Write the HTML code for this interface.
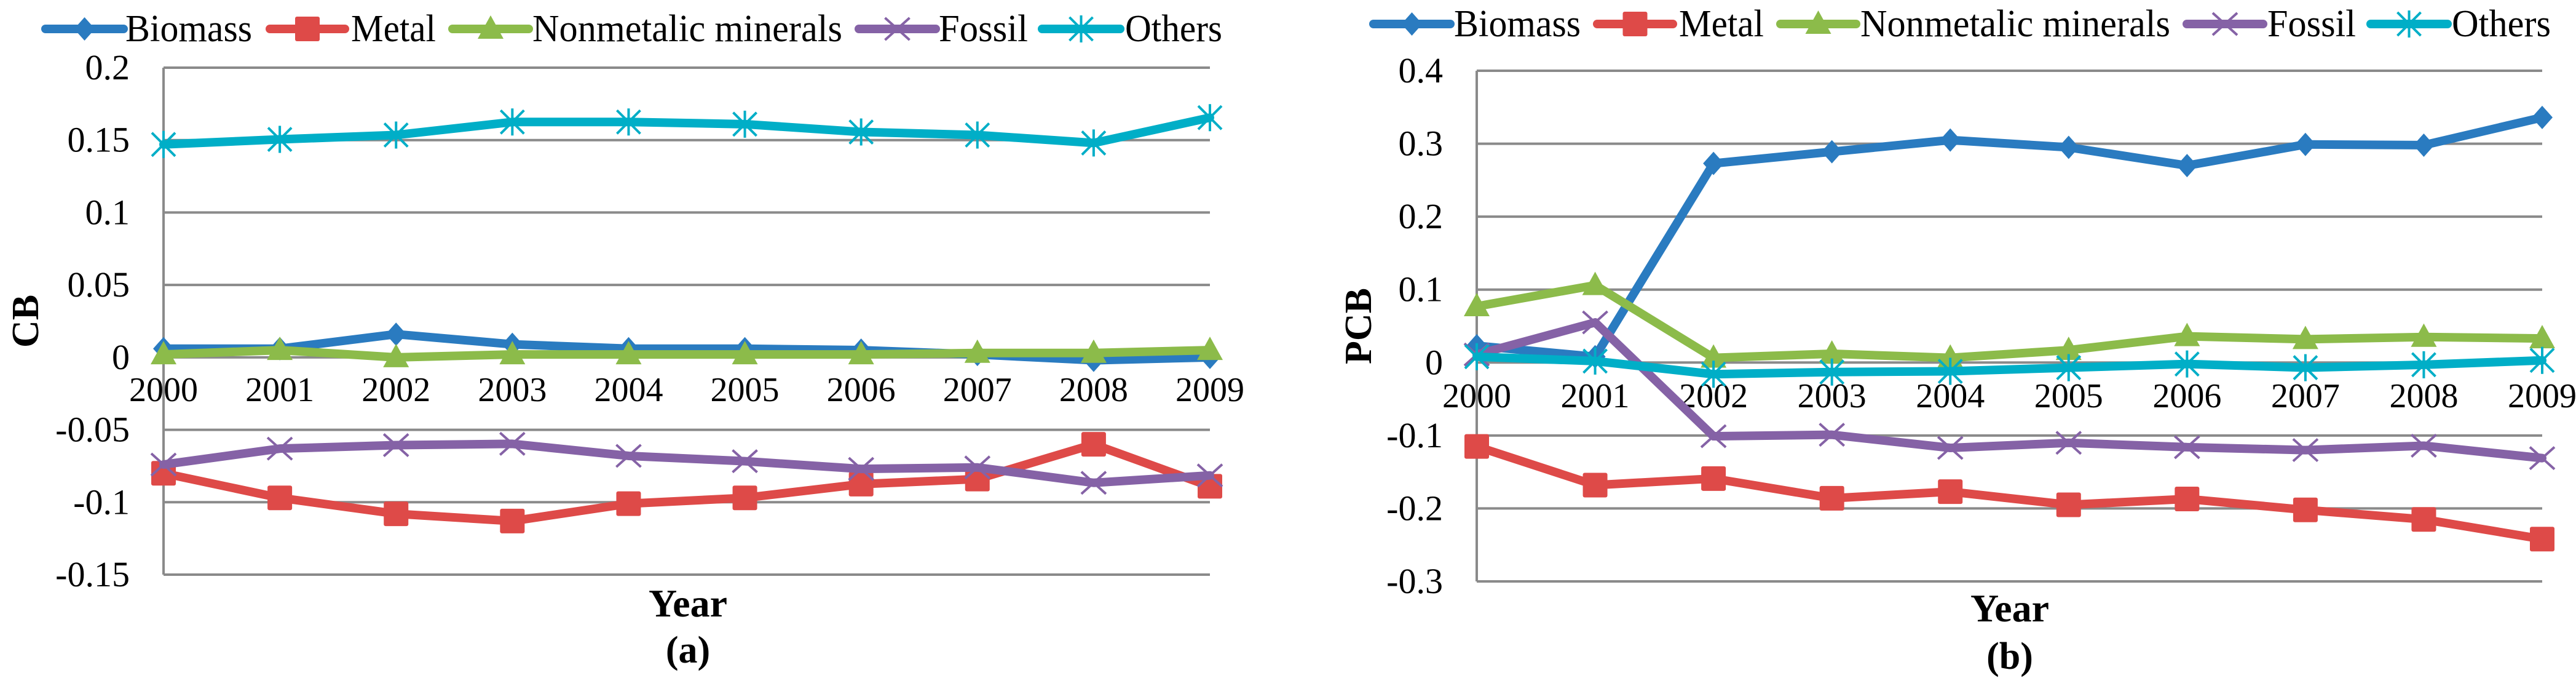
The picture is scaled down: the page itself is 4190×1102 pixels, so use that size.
<!DOCTYPE html>
<html><head><meta charset="utf-8"><style>
html,body{margin:0;padding:0;background:#fff;}
svg{display:block;}
svg text{font-family:"Liberation Serif","Times New Roman",serif !important;fill:#000;}
</style></head><body>
<svg id="chart" width="4190" height="1102" viewBox="0 0 4190 1102" xmlns="http://www.w3.org/2000/svg" font-family="'Liberation Serif', serif"></svg>
<script>
const years = ["2000","2001","2002","2003","2004","2005","2006","2007","2008","2009"];
const seriesNames = ["Biomass","Metal","Nonmetalic minerals","Fossil","Others"];
const seriesColors = ["#2A7BC0","#DE4A48","#8CBB4A","#8562A6","#00AEC7"];
const seriesMarkers = ["diamond","square","triangle","x","star"];
// Panel (a) CB
const cbBiomass = [0.006,0.006,0.016,0.009,0.006,0.006,0.005,0.002,-0.002,0.000];
const cbMetal = [-0.080,-0.097,-0.108,-0.113,-0.101,-0.097,-0.0875,-0.084,-0.060,-0.089];
const cbNonmet = [0.002,0.005,0.000,0.002,0.002,0.002,0.002,0.003,0.003,0.005];
const cbFossil = [-0.074,-0.063,-0.0606,-0.0597,-0.068,-0.0717,-0.077,-0.076,-0.0866,-0.0815];
const cbOthers = [0.147,0.1505,0.1535,0.1625,0.1625,0.161,0.1556,0.1535,0.148,0.1655];
const cbTicks = [0.2,0.15,0.1,0.05,0,-0.05,-0.1,-0.15];
const cbTickLabels = ["0.2","0.15","0.1","0.05","0","-0.05","-0.1","-0.15"];
// Panel (b) PCB
const pcbBiomass = [0.023,0.008,0.273,0.289,0.305,0.295,0.270,0.299,0.298,0.336];
const pcbMetal = [-0.115,-0.168,-0.159,-0.186,-0.177,-0.195,-0.187,-0.202,-0.215,-0.242];
const pcbNonmet = [0.077,0.106,0.0065,0.012,0.0065,0.017,0.036,0.032,0.035,0.033];
const pcbFossil = [0.011,0.055,-0.101,-0.099,-0.117,-0.110,-0.116,-0.120,-0.114,-0.131];
const pcbOthers = [0.008,0.002,-0.016,-0.013,-0.012,-0.007,-0.002,-0.007,-0.003,0.003];
const pcbTicks = [0.4,0.3,0.2,0.1,0,-0.1,-0.2,-0.3];
const pcbTickLabels = ["0.4","0.3","0.2","0.1","0","-0.1","-0.2","-0.3"];

const NS="http://www.w3.org/2000/svg";
const svg=document.getElementById('chart');
const FONT="'Liberation Serif', 'Times New Roman', serif";
function mk(tag,attrs,parent){const e=document.createElementNS(NS,tag);for(const k in attrs)e.setAttribute(k,attrs[k]);if(tag==='text')e.setAttribute('font-family',FONT);(parent||svg).appendChild(e);return e;}

function marker(g,type,cx,cy,color){
  let m;
  if(type==="diamond"){m=mk('polygon',{points:`${cx},${cy-19} ${cx+17},${cy} ${cx},${cy+19} ${cx-17},${cy}`,fill:color},g);}
  else if(type==="square"){m=mk('rect',{x:cx-20,y:cy-20,width:40,height:40,rx:3,fill:color},g);}
  else if(type==="triangle"){m=mk('polygon',{points:`${cx},${cy-22} ${cx+21},${cy+16} ${cx-21},${cy+16}`,fill:color},g);}
  else if(type==="x"){m=mk('path',{d:`M${cx-20},${cy-18}L${cx+20},${cy+18}M${cx-20},${cy+18}L${cx+20},${cy-18}`,stroke:color,'stroke-width':4,fill:'none'},g);}
  else {m=mk('path',{d:`M${cx-19},${cy-19}L${cx+19},${cy+19}M${cx-19},${cy+19}L${cx+19},${cy-19}M${cx},${cy-22}L${cx},${cy+22}`,stroke:color,'stroke-width':4,fill:'none'},g);}
  
  
}

function panel(cfg){
  const g=mk('g',{});
  
  
  const xs=i=>cfg.x0+(cfg.x1-cfg.x0)*i/(years.length-1);
  const ys=v=>cfg.yTop+(cfg.ticks[0]-v)/(cfg.ticks[0]-cfg.ticks[cfg.ticks.length-1])*(cfg.yBot-cfg.yTop);
  cfg.ticks.forEach((t,i)=>{
    const l=mk('line',{x1:cfg.x0,x2:cfg.x1,y1:ys(t),y2:ys(t),stroke:'#8a8a8a','stroke-width':4},g);
    
    
    const tx=mk('text',{x:cfg.x0-55,y:ys(t)+19,'text-anchor':'end','font-size':58},g);
    tx.textContent=cfg.tickLabels[i];
    
    
  });
  const ax=mk('line',{x1:cfg.x0,x2:cfg.x0,y1:cfg.yTop,y2:cfg.yBot,stroke:'#8a8a8a','stroke-width':4},g);
  
  
  years.forEach((y,i)=>{
    const tx=mk('text',{x:xs(i),y:cfg.xLabY,'text-anchor':'middle','font-size':56},g);
    tx.textContent=y;
    
    
  });
  cfg.data.forEach((arr,s)=>{
    const pts=arr.map((v,i)=>xs(i)+','+ys(v)).join(' ');
    const pl=mk('polyline',{points:pts,fill:'none',stroke:seriesColors[s],'stroke-width':14,'stroke-linejoin':'round','stroke-linecap':'round'},g);
    
    
    arr.forEach((v,i)=>marker(g,seriesMarkers[s],xs(i),ys(v),seriesColors[s]));
  });
  cfg.legend.forEach((le,s)=>{
    const lg=mk('g',{},g);
    
    
    mk('line',{x1:le[0],x2:le[1],y1:cfg.legY,y2:cfg.legY,stroke:seriesColors[s],'stroke-width':14,'stroke-linecap':'round'},lg);
    marker(lg,seriesMarkers[s],(le[0]+le[1])/2,cfg.legY,seriesColors[s]);
    const tx=mk('text',{x:le[2],y:cfg.legY+20,'font-size':62},lg);
    tx.textContent=seriesNames[s];
    tx.setAttribute('textLength',le[3]-le[2]);
    tx.setAttribute('lengthAdjust','spacingAndGlyphs');
  });
  const yt=mk('text',{x:0,y:0,'text-anchor':'middle','font-size':62,'font-weight':'bold',transform:`translate(${cfg.yTitleX},${cfg.yTitleY}) rotate(-90)`},g);
  yt.textContent=cfg.yTitle;
  
  
  const xt=mk('text',{x:cfg.midX,y:cfg.yearY,'text-anchor':'middle','font-size':64,'font-weight':'bold'},g);
  xt.textContent='Year';
  
  
  const pt=mk('text',{x:cfg.midX,y:cfg.capY,'text-anchor':'middle','font-size':62,'font-weight':'bold'},g);
  pt.textContent=cfg.caption;
  
  
}

panel({id:'cb',x0:266,x1:1968,yTop:110,yBot:934,ticks:cbTicks,tickLabels:cbTickLabels,xLabY:652,
  data:[cbBiomass,cbMetal,cbNonmet,cbFossil,cbOthers],
  legY:47,legend:[[74,201,204,410],[439,561,571,709],[736,860,866,1370],[1397,1522,1527,1672],[1695,1822,1830,1988]],
  yTitle:'CB',yTitleX:62,yTitleY:522,midX:1119,yearY:1002,capY:1077,caption:'(a)'});
panel({id:'pcb',x0:2402,x1:4135,yTop:115,yBot:945,ticks:pcbTicks,tickLabels:pcbTickLabels,xLabY:662,
  data:[pcbBiomass,pcbMetal,pcbNonmet,pcbFossil,pcbOthers],
  legY:39,legend:[[2234,2359,2365,2571],[2598,2721,2731,2869],[2896,3019,3026,3530],[3557,3681,3688,3832],[3856,3981,3988,4149]],
  yTitle:'PCB',yTitleX:2230,yTitleY:530,midX:3269,yearY:1010,capY:1087,caption:'(b)'});
</script>
</body></html>
